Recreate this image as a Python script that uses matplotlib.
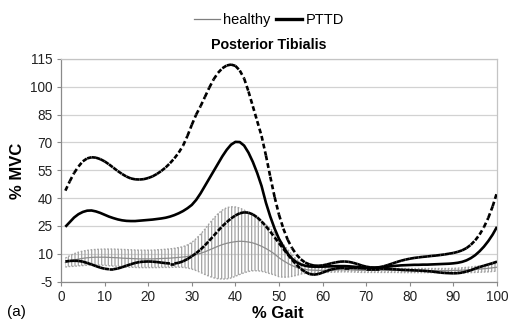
import numpy as np
import matplotlib
matplotlib.use("Agg")
import matplotlib.pyplot as plt
from matplotlib.collections import LineCollection
from matplotlib.lines import Line2D

plt.rcParams['font.family'] = ['Liberation Sans', 'DejaVu Sans']
plt.rcParams['hatch.linewidth'] = 0.9
plt.rcParams['lines.scale_dashes'] = False

# % of gait cycle
gait = np.arange(1, 101)

healthy_mean = [
    5.2, 6.0, 6.6, 7.1, 7.5, 7.8, 8.0, 8.1, 8.1, 8.1,
    8.0, 7.9, 7.8, 7.6, 7.5, 7.4, 7.3, 7.2, 7.2, 7.2,
    7.2, 7.3, 7.4, 7.5, 7.6, 7.8, 8.0, 8.2, 8.5, 8.9,
    9.5, 10.2, 11.0, 12.0, 13.0, 14.0, 14.9, 15.6, 16.1, 16.5,
    16.7, 16.6, 16.3, 15.8, 15.0, 14.0, 12.8, 11.4, 9.8, 7.8,
    6.2, 4.8, 3.6, 2.6, 2.0, 1.5, 1.2, 1.1, 1.0, 1.0,
    1.0, 1.1, 1.2, 1.3, 1.3, 1.3, 1.2, 1.1, 1.0, 1.0,
    1.0, 1.0, 1.0, 1.0, 1.0, 1.0, 1.0, 0.9, 0.9, 0.9,
    0.9, 0.9, 0.9, 0.9, 0.9, 0.9, 0.9, 0.9, 0.9, 1.0,
    1.0, 1.1, 1.2, 1.3, 1.5, 1.7, 1.9, 2.1, 2.4, 2.7,
]

healthy_sd = [
    2.4, 2.9, 3.4, 3.7, 3.9, 4.0, 4.1, 4.2, 4.3, 4.4,
    4.5, 4.6, 4.6, 4.7, 4.7, 4.7, 4.7, 4.7, 4.7, 4.7,
    4.7, 4.8, 4.8, 4.9, 5.0, 5.1, 5.3, 5.6, 6.2, 7.2,
    8.6, 10.3, 12.2, 14.2, 16.0, 17.5, 18.6, 19.2, 19.2, 18.7,
    17.9, 16.9, 15.9, 15.0, 14.2, 13.5, 12.9, 12.2, 11.3, 10.2,
    8.9, 7.4, 5.8, 4.3, 3.0, 2.1, 1.5, 1.2, 1.1, 1.1,
    1.1, 1.1, 1.1, 1.1, 1.1, 1.1, 1.1, 1.1, 1.1, 1.1,
    1.1, 1.1, 1.1, 1.1, 1.1, 1.1, 1.1, 1.1, 1.1, 1.1,
    1.1, 1.1, 1.1, 1.1, 1.1, 1.1, 1.1, 1.1, 1.1, 1.1,
    1.2, 1.3, 1.4, 1.5, 1.6, 1.7, 1.8, 1.9, 2.0, 2.1,
]

pttd_mean = [
    24.5, 27.0, 29.5, 31.3, 32.5, 33.2, 33.3, 32.8, 32.0, 31.0,
    30.0, 29.2, 28.5, 28.0, 27.7, 27.6, 27.6, 27.8, 28.0, 28.2,
    28.4, 28.7, 29.0, 29.4, 30.0, 30.8, 31.8, 33.0, 34.5, 36.3,
    39.0, 42.5, 46.5, 50.5, 54.5, 58.5, 62.5, 66.0, 68.8, 70.3,
    70.2, 68.3, 64.5, 59.5, 53.5, 46.5, 37.5, 30.0, 23.5, 18.0,
    13.8, 10.0, 7.3, 5.4, 4.2, 3.5, 3.1, 3.0, 3.0, 3.0,
    3.1, 3.2, 3.3, 3.3, 3.3, 3.2, 3.0, 2.8, 2.6, 2.5,
    2.4, 2.4, 2.5, 2.7, 3.0, 3.3, 3.5, 3.7, 3.8, 3.9,
    4.0, 4.0, 4.1, 4.1, 4.2, 4.3, 4.4, 4.5, 4.6, 4.8,
    5.1, 5.6, 6.4, 7.6, 9.2, 11.3, 13.8, 16.8, 20.3, 24.5,
]

pttd_upper = [
    44.0, 49.0, 53.5, 57.0, 59.8, 61.4, 62.0, 61.8, 61.0, 59.8,
    58.2, 56.4, 54.6, 53.0, 51.6, 50.6, 50.1, 50.0, 50.2, 50.8,
    51.7, 53.0, 54.6, 56.5, 58.8, 61.4, 64.5, 68.3, 73.5, 79.5,
    85.0, 89.5, 94.5, 99.5, 104.0, 107.5, 110.0, 111.5, 112.0, 111.3,
    108.8, 104.5, 97.5, 89.5, 81.5, 73.5, 63.0, 51.5, 40.5, 31.0,
    23.5, 17.5, 13.0, 9.5, 7.0, 5.2, 4.2, 3.6, 3.5, 3.7,
    4.2, 4.8, 5.3, 5.7, 5.8, 5.6, 5.1, 4.4, 3.6, 3.0,
    2.6, 2.5, 2.7, 3.2, 3.9, 4.7, 5.5, 6.2, 6.8, 7.3,
    7.7, 8.0, 8.3, 8.5, 8.8, 9.0, 9.3, 9.6, 10.0, 10.4,
    11.0, 11.8, 13.0, 14.8, 17.2, 20.3, 24.3, 29.3, 35.5, 43.0,
]

pttd_lower = [
    5.8, 6.1, 6.2, 6.1, 5.7, 5.0, 4.2, 3.3, 2.5, 1.9,
    1.6, 1.6, 2.0, 2.7, 3.5, 4.3, 5.0, 5.5, 5.7, 5.8,
    5.7, 5.5, 5.2, 4.9, 4.7, 4.7, 5.1, 5.9, 7.1, 8.6,
    10.3, 12.2, 14.5, 17.0, 19.6, 22.3, 24.8, 27.0, 29.0, 30.6,
    31.8, 32.3, 32.1, 31.2, 29.6, 27.4, 24.8, 21.9, 18.8, 15.7,
    12.6, 9.6, 6.7, 4.0, 1.8, 0.2, -1.0, -1.3, -1.0, -0.2,
    0.7, 1.5, 2.0, 2.3, 2.4, 2.4, 2.3, 2.2, 2.1, 2.0,
    2.0, 2.0, 2.0, 1.9, 1.8, 1.6, 1.5, 1.3, 1.2, 1.1,
    1.0, 0.9, 0.8, 0.6, 0.4, 0.1, -0.2, -0.4, -0.5, -0.6,
    -0.5, -0.2, 0.4, 1.1, 2.0, 2.8, 3.5, 4.2, 4.9, 5.7,
]

y_ticks = [-5, 10, 25, 40, 55, 70, 85, 100, 115]
x_ticks = [0, 10, 20, 30, 40, 50, 60, 70, 80, 90, 100]
series_labels = ['healthy', 'PTTD']

W, H = 508, 325
fig = plt.figure(figsize=(W / 100, H / 100), dpi=100)
ax = fig.add_axes([61 / W, 1 - 281.5 / H, (497 - 61) / W, (281.5 - 59) / H])

h_mean = np.array(healthy_mean)
h_sd = np.array(healthy_sd)
h_hi = h_mean + h_sd
h_lo = h_mean - h_sd

band_grey = '#a3a3a3'
# healthy +/- SD as vertical bars with dotted bounds
ax.fill_between(gait, h_lo, h_hi, facecolor='none', edgecolor=band_grey,
                hatch='|||||', linewidth=0, zorder=2)
ax.plot(gait, h_hi, color=band_grey, lw=1.0, ls=(0, (1.2, 1.2)), zorder=2)
ax.plot(gait, h_lo, color=band_grey, lw=1.0, ls=(0, (1.2, 1.2)), zorder=2)
ax.plot(gait, h_mean, color='#8c8c8c', lw=0.9, zorder=3)

# PTTD mean
ax.plot(gait, pttd_mean, color='black', lw=1.9, zorder=4, solid_capstyle='butt')


def dashed_by_segment(values):
    # the dash pattern restarts on every 1 % step, so shallow stretches read solid
    pts = np.column_stack([gait, values])
    segs = np.stack([pts[:-1], pts[1:]], axis=1)
    return LineCollection(segs, colors='black', linewidths=1.9,
                          linestyles=[(0, (3.5, 2.2))], capstyle='butt', zorder=4)


ax.add_collection(dashed_by_segment(pttd_upper))
ax.add_collection(dashed_by_segment(pttd_lower))

ax.set_xlim(0, 100)
ax.set_ylim(-5, 115)
ax.set_xticks(x_ticks)
ax.set_yticks(y_ticks)
ax.set_xticklabels([str(v) for v in x_ticks])
ax.set_yticklabels([str(v) for v in y_ticks])
ax.yaxis.grid(True, color='#d2d2d2', lw=0.9)
ax.set_axisbelow(True)

for side in ('left', 'bottom'):
    ax.spines[side].set_color('#8a8a8a')
    ax.spines[side].set_linewidth(0.9)
for side in ('top', 'right'):
    ax.spines[side].set_color('#c4c4c4')
    ax.spines[side].set_linewidth(0.9)

ax.tick_params(direction='out', length=3, width=0.8, color='#8a8a8a',
               labelsize=9.8, labelcolor='#222222', pad=3)

handles = [Line2D([], [], color='#7f7f7f', lw=0.9),
           Line2D([], [], color='black', lw=2.4)]
fig.legend(handles, series_labels, loc='center',
           bbox_to_anchor=(269 / W, 1 - 20 / H), ncol=2, frameon=False,
           fontsize=10.5, handlelength=1.75, handletextpad=0.25,
           columnspacing=0.4, borderpad=0, borderaxespad=0)

fig.text(269 / W, 1 - 45 / H, 'Posterior Tibialis', ha='center', va='center',
         fontsize=10.3, fontweight='bold')
fig.text(18 / W, 1 - 171 / H, '% MVC', rotation=90, ha='center', va='center',
         fontsize=12, fontweight='bold')
fig.text(278 / W, 1 - 313 / H, '% Gait', ha='center', va='center',
         fontsize=12, fontweight='bold')
fig.text(7 / W, 1 - 312 / H, '(a)', ha='left', va='center', fontsize=11)

fig.savefig('out.png', dpi=100)
